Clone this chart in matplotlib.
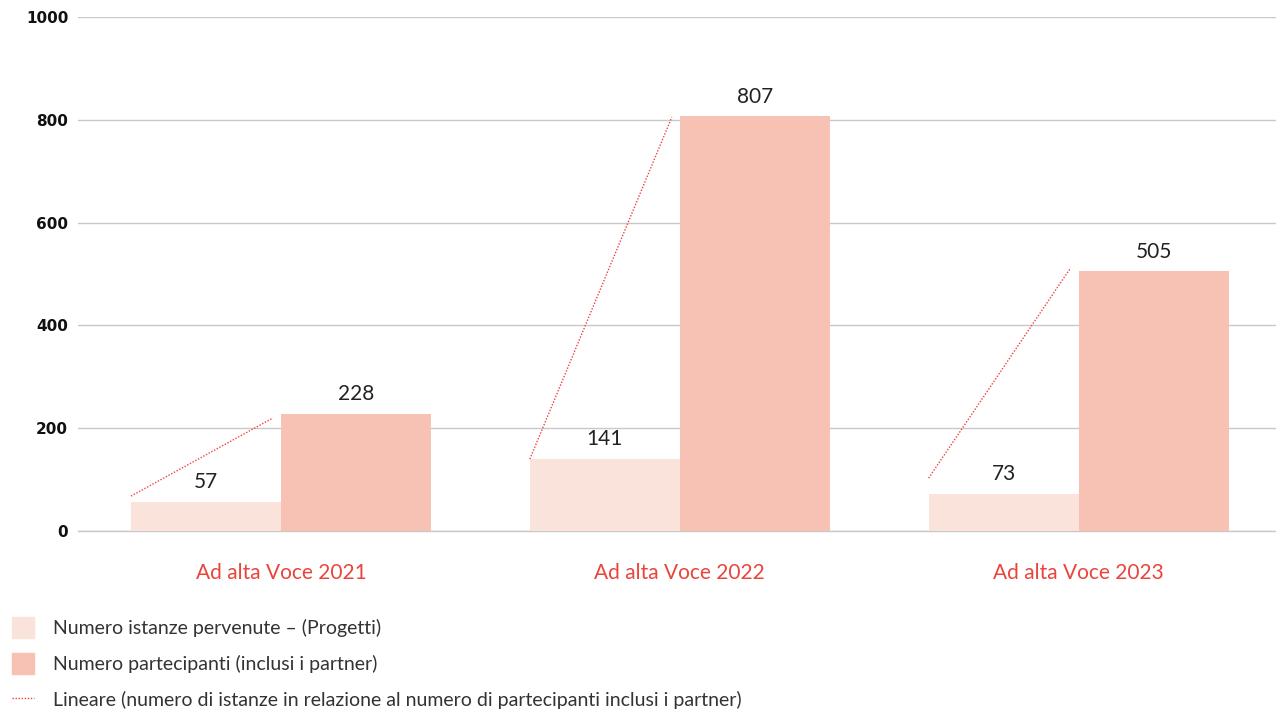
import numpy as np
import matplotlib
matplotlib.use("Agg")
from matplotlib import pyplot as plt
from matplotlib.patches import Patch
from matplotlib.lines import Line2D

categories = ["Ad alta Voce 2021", "Ad alta Voce 2022", "Ad alta Voce 2023"]
istanze = [57, 141, 73]
partecipanti = [228, 807, 505]
# trend line end points (start, end)
trend_start = [68, 140, 103]
trend_end = [220, 805, 512]
yticks = [0, 200, 400, 600, 800, 1000]

labels = ["Numero istanze pervenute – (Progetti)",
          "Numero partecipanti (inclusi i partner)",
          "Lineare (numero di istanze in relazione al numero di partecipanti inclusi i partner)"]

c_light = "#FAE3DB"
c_dark = "#F7C1B3"
c_red = "#E8453C"
c_line = "#F04040"

plt.rcParams['font.family'] = ['Lato', 'DejaVu Sans']

fig = plt.figure(figsize=(12.76, 7.09), dpi=100)
ax = fig.add_axes([0.0611, 0.251, 0.9389, 0.725])

x = np.arange(len(categories))
w = 0.376
ax.bar(x - w / 2, istanze, width=w, color=c_light, zorder=2)
ax.bar(x + w / 2, partecipanti, width=w, color=c_dark, zorder=2)

for xi, a, b in zip(x, istanze, partecipanti):
    ax.annotate(str(a), (xi - w / 2, a), xytext=(0, 7), textcoords="offset points",
                ha="center", va="bottom", fontsize=15, color="#222222")
    ax.annotate(str(b), (xi + w / 2, b), xytext=(0, 7), textcoords="offset points",
                ha="center", va="bottom", fontsize=15, color="#222222")

for xi, s, e in zip(x, trend_start, trend_end):
    ax.plot([xi - w, xi - 0.02], [s, e], color=c_line, lw=1, ls=(0, (1, 1.2)), zorder=3)

ax.set_xlim(-0.509, 2.495)
ax.set_ylim(0, 1000)
ax.set_yticks(yticks)
ax.set_yticklabels([str(t) for t in yticks], fontsize=11, fontweight="heavy",
                   family="DejaVu Sans", color="#111111")
ax.set_xticks(x)
ax.set_xticklabels(categories, fontsize=15, color=c_red)
ax.tick_params(axis="both", length=0)
ax.tick_params(axis="x", pad=23)
ax.tick_params(axis="y", pad=7)
ax.grid(axis="y", color="#C8C8C8", lw=1, zorder=0)
ax.axhline(0, color="#C8C8C8", lw=1, zorder=1, clip_on=False)
for s in ax.spines.values():
    s.set_visible(False)

handles = [Patch(color=c_light), Patch(color=c_dark),
           Line2D([0], [0], color=c_line, lw=1, ls=(0, (1, 1.2)))]
fig.legend(handles, labels, loc="upper left", bbox_to_anchor=(12 / 1276, 1 - 617 / 709),
           frameon=False, fontsize=14, handlelength=1.15, handleheight=1.25,
           handletextpad=0.95, labelspacing=0.8, borderpad=0, borderaxespad=0,
           labelcolor="#333333")

fig.savefig("out.png", dpi=100)
